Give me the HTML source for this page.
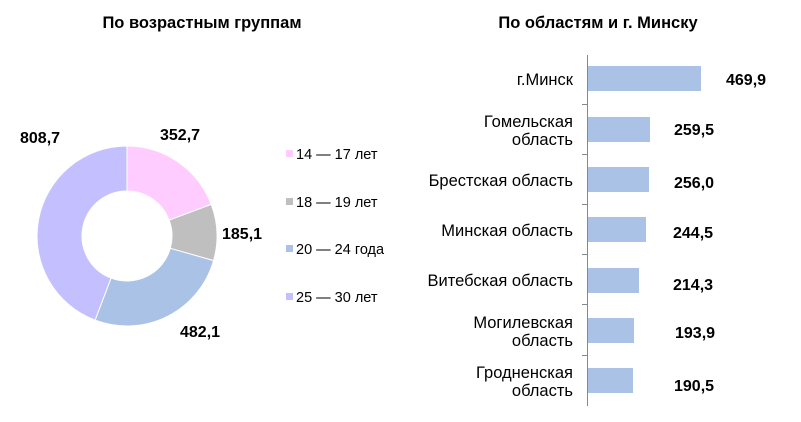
<!DOCTYPE html>
<html><head><meta charset="utf-8"><style>
body{margin:0;background:#fff;}
svg{display:block;font-family:"Liberation Sans",sans-serif;}
</style></head><body>
<svg width="801" height="422" xmlns="http://www.w3.org/2000/svg">
<text x="202" y="28" font-size="16.5" font-weight="bold" text-anchor="middle">По возрастным группам</text>
<text x="598" y="28" font-size="16.5" font-weight="bold" text-anchor="middle">По областям и г. Минску</text>
<g stroke="#fff" stroke-width="1">
<path d="M127,146 A90,90 0 0 1 211.27,204.40 L169.13,220.20 A45,45 0 0 0 127,191 Z" fill="#FFCCFF"/>
<path d="M211.27,204.40 A90,90 0 0 1 213.56,260.62 L170.28,248.31 A45,45 0 0 0 169.13,220.20 Z" fill="#BFBFBF"/>
<path d="M213.56,260.62 A90,90 0 0 1 95.06,320.14 L111.03,278.07 A45,45 0 0 0 170.28,248.31 Z" fill="#A9C2E6"/>
<path d="M95.06,320.14 A90,90 0 0 1 127,146 L127,191 A45,45 0 0 0 111.03,278.07 Z" fill="#C4C0FF"/>
</g>
<g font-size="16" font-weight="bold">
<text x="160" y="140">352,7</text>
<text x="222" y="239">185,1</text>
<text x="180" y="337">482,1</text>
<text x="20" y="143">808,7</text>
</g>
<g font-size="14.5">
<rect x="286" y="150" width="7" height="7" fill="#FFCCFF"/><text x="296" y="159">14 — 17 лет</text>
<rect x="286" y="198" width="7" height="7" fill="#BFBFBF"/><text x="296" y="207">18 — 19 лет</text>
<rect x="286" y="245" width="7" height="7" fill="#A9C2E6"/><text x="296" y="254">20 — 24 года</text>
<rect x="286" y="293" width="7" height="7" fill="#C4C0FF"/><text x="296" y="302">25 — 30 лет</text>
</g>
<g stroke="#888" stroke-width="1">
<line x1="587.5" y1="55" x2="587.5" y2="406"/>
<line x1="582" y1="104.5" x2="587" y2="104.5"/>
<line x1="582" y1="154.5" x2="587" y2="154.5"/>
<line x1="582" y1="204.5" x2="587" y2="204.5"/>
<line x1="582" y1="254.5" x2="587" y2="254.5"/>
<line x1="582" y1="304.5" x2="587" y2="304.5"/>
<line x1="582" y1="355.5" x2="587" y2="355.5"/>
</g>
<g fill="#A9C2E6">
<rect x="588" y="66" width="113" height="25"/>
<rect x="588" y="117" width="62" height="25"/>
<rect x="588" y="167" width="61" height="25"/>
<rect x="588" y="217" width="58" height="25"/>
<rect x="588" y="268" width="51" height="25"/>
<rect x="588" y="318" width="46" height="25"/>
<rect x="588" y="368" width="45" height="25"/>
</g>
<g font-size="16" font-weight="bold">
<text x="726" y="85">469,9</text>
<text x="674" y="135">259,5</text>
<text x="674" y="188">256,0</text>
<text x="673" y="238">244,5</text>
<text x="673" y="290">214,3</text>
<text x="675" y="338">193,9</text>
<text x="674" y="391">190,5</text>
</g>
<g font-size="16.5" text-anchor="end">
<text x="573" y="85">г.Минск</text>
<text x="573" y="127">Гомельская</text><text x="573" y="145">область</text>
<text x="573" y="186">Брестская область</text>
<text x="573" y="236">Минская  область</text>
<text x="573" y="286">Витебская область</text>
<text x="573" y="328">Могилевская</text><text x="573" y="346">область</text>
<text x="573" y="378">Гродненская</text><text x="573" y="396">область</text>
</g>
</svg>
</body></html>
